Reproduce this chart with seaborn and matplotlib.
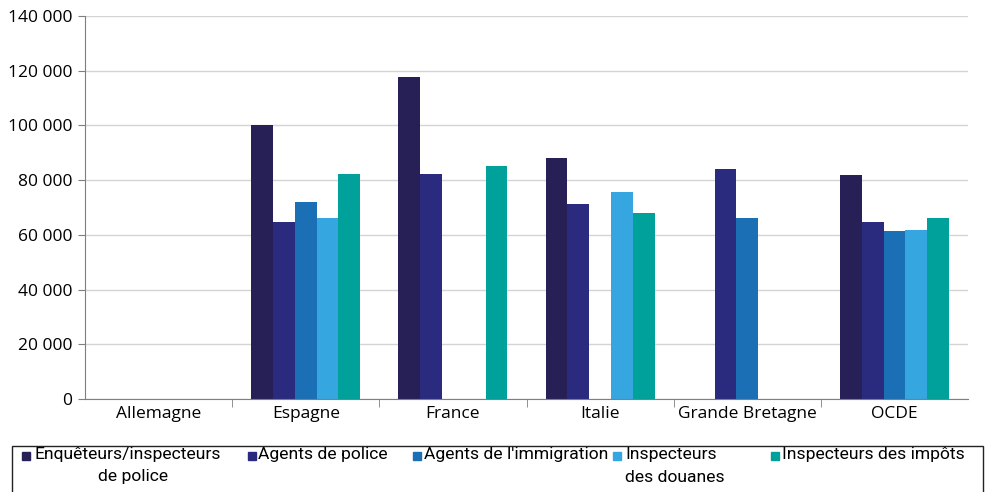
import matplotlib
matplotlib.use("Agg")
import matplotlib.pyplot as plt
from matplotlib.patches import Rectangle
from matplotlib.ticker import FuncFormatter, FixedLocator
import seaborn as sns
import pandas as pd
import numpy as np

countries = ["Allemagne", "Espagne", "France", "Italie", "Grande Bretagne", "OCDE"]
series = ["Enquêteurs/inspecteurs\nde police", "Agents de police",
          "Agents de l'immigration", "Inspecteurs\ndes douanes",
          "Inspecteurs des impôts"]
enqueteurs = [np.nan, 100000, 117700, 88200, np.nan, 81900]
police = [np.nan, 64600, 82200, 71300, 84200, 64700]
immigration = [np.nan, 71900, np.nan, np.nan, 66200, 61400]
douanes = [np.nan, 66000, np.nan, 75500, np.nan, 61700]
impots = [np.nan, 82200, 85200, 67900, np.nan, 66300]
colors = ["#262056", "#2a2a7e", "#1a6fb5", "#35a6df", "#00a19a"]

rows = []
for name, vals in zip(series, [enqueteurs, police, immigration, douanes, impots]):
    for c, v in zip(countries, vals):
        rows.append({"pays": c, "serie": name, "valeur": v})
df = pd.DataFrame(rows)

sns.set_style("white")
plt.rcParams["font.family"] = ["Open Sans", "DejaVu Sans"]
plt.rcParams["text.color"] = "black"
plt.rcParams["xtick.color"] = "black"
plt.rcParams["ytick.color"] = "black"

fig = plt.figure(figsize=(9.85, 4.92), dpi=100)
ax = fig.add_axes([85 / 985, 1 - 399 / 492, 883 / 985, 383 / 492])

sns.barplot(data=df, x="pays", y="valeur", hue="serie", hue_order=series,
            palette=colors, width=0.74, ax=ax, legend=False, saturation=1,
            edgecolor="none", linewidth=0)

ax.set_ylim(0, 140000)
ax.set_xlim(-0.5, len(countries) - 0.5)
ax.set_yticks(range(0, 140001, 20000))
ax.yaxis.set_major_formatter(FuncFormatter(
    lambda v, p: f"{int(v):,}".replace(",", " ")))
ax.yaxis.grid(True, color="#d4d4d4", linewidth=1)
ax.set_axisbelow(True)
ax.set_xlabel("")
ax.set_ylabel("")
for s in ["top", "right"]:
    ax.spines[s].set_visible(False)
ax.spines["left"].set_color("#7f7f7f")
ax.spines["bottom"].set_color("#7f7f7f")
ax.tick_params(axis="y", which="major", length=5, color="#7f7f7f",
               labelsize=12.5, pad=4, left=True, labelcolor="black")
ax.tick_params(axis="x", which="major", length=0, labelsize=12.5, pad=5,
               labelcolor="black")
ax.xaxis.set_minor_locator(FixedLocator(np.arange(0.5, len(countries) - 1, 1.0)))
ax.tick_params(axis="x", which="minor", length=6, color="#7f7f7f",
               direction="out", bottom=True)

# legend drawn by hand so the swatch sits on the first line
leg_font = ["Roboto", "DejaVu Sans"]
fig.add_artist(Rectangle((12 / 985, -0.05), 971 / 985, 1 - 446 / 492 + 0.05,
                         transform=fig.transFigure, fill=False,
                         edgecolor="#222222", linewidth=1))
sq_x = [22, 248, 413, 613, 771]
tx_x = [34, 258, 424, 625, 782]
line2_x = [98, None, None, 625, None]
for i, name in enumerate(series):
    first, *rest = name.split("\n")
    fig.add_artist(Rectangle((sq_x[i] / 985, 1 - 460 / 492), 8 / 985, 8 / 492,
                             transform=fig.transFigure, color=colors[i]))
    fig.text(tx_x[i] / 985, 1 - 455 / 492, first, family=leg_font,
             fontsize=12.6, va="center", ha="left")
    if rest:
        fig.text(line2_x[i] / 985, 1 - 477 / 492, rest[0], family=leg_font,
                 fontsize=12.6, va="center", ha="left")

fig.savefig("out.png", dpi=100)
